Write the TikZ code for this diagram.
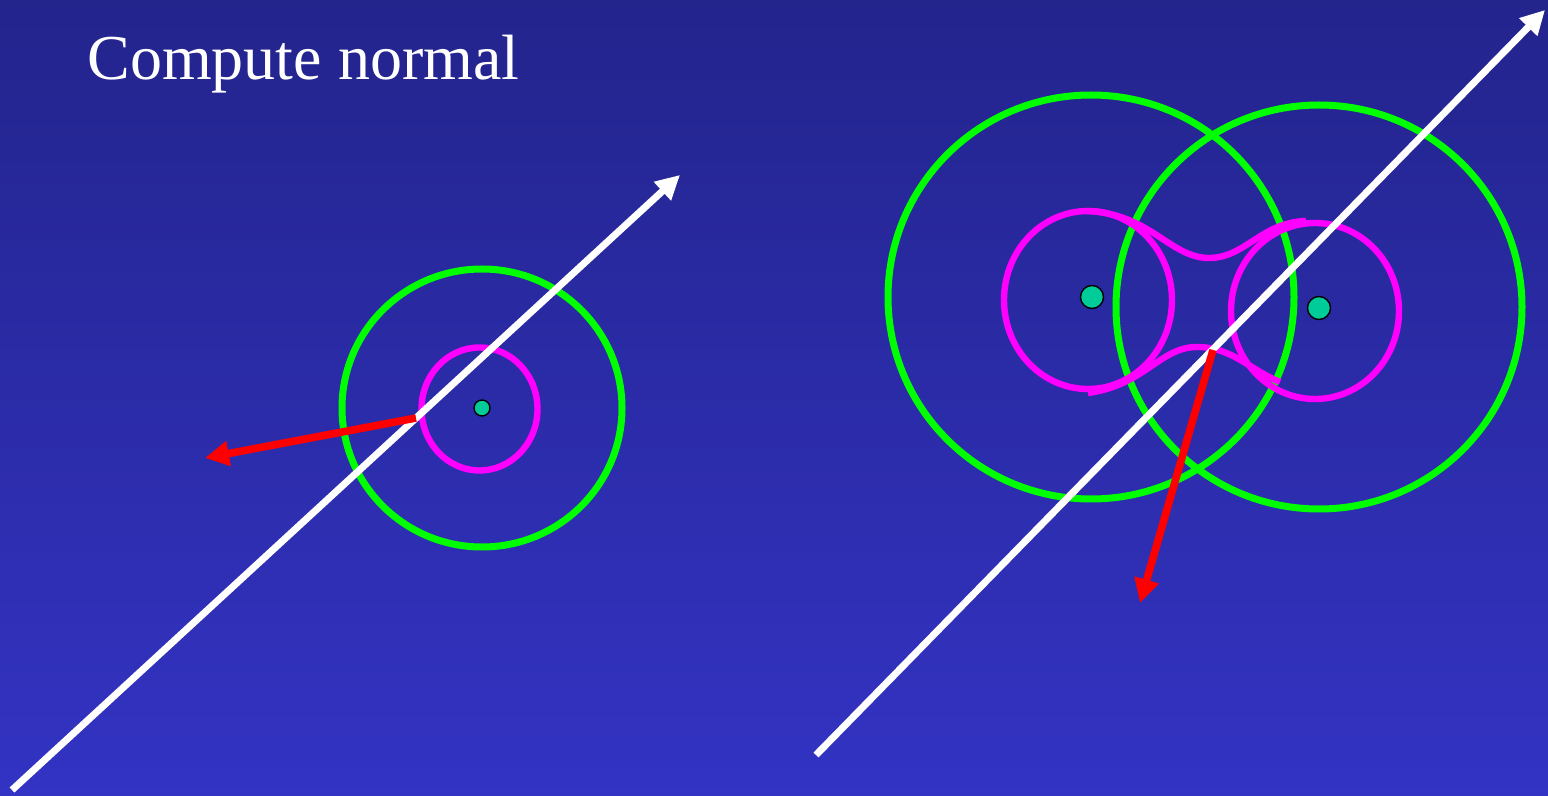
\documentclass[tikz,border=0pt]{standalone}
\usepackage{fontspec}
\setmainfont{Liberation Serif}
\usetikzlibrary{arrows.meta}
\definecolor{bgtop}{RGB}{35,36,140}
\definecolor{bgbot}{RGB}{51,51,196}
\definecolor{dotfill}{RGB}{0,204,153}
\definecolor{halogreen}{RGB}{0,255,0}
\definecolor{blobpink}{RGB}{255,0,255}
\definecolor{nrmred}{RGB}{255,0,0}

\begin{document}
\begin{tikzpicture}[x=0.5pt, y=-0.5pt,
      halo/.style={draw=halogreen, line width=3.5pt},
      blob/.style={draw=blobpink, line width=3.2pt},
      ctr/.style={circle, draw=black, fill=dotfill, line width=0.7pt, inner sep=0pt},
      ray/.style={white, line width=3.5pt, -{Triangle[length=12pt,width=12pt]}},
      nrm/.style={nrmred, line width=3.8pt, -{Triangle[length=12pt,width=12pt]}}]
    \shade[top color=bgtop, bottom color=bgbot] (0,0) rectangle (1548,796);
    \useasboundingbox (0,0) rectangle (1548,796);
    \node[white, font=\fontsize{32}{38}\selectfont, anchor=base west, inner sep=0pt] (title) at (87,80) {Compute normal};

    % single sphere
    \draw[halo] (482,408) ellipse [x radius=140, y radius=139];
    \draw[blob] (479.5,409) ellipse [x radius=58, y radius=61.5];
    \node[ctr, minimum size=8pt] (cA) at (482,408) {};
    \coordinate (rayA0) at (12,790);
    \coordinate (rayA1) at (680,175);
    \coordinate (hitA) at (416,418);
    \coordinate (nrmA) at (205,458);
    \draw[ray] (rayA0) -- (rayA1);
    \draw[nrm] (hitA) -- (nrmA);

    % two spheres, blended
    \draw[halo] (1091,297) ellipse [x radius=203, y radius=202];
    \draw[halo] (1319,307) ellipse [x radius=203, y radius=202];
    \draw[blob] (1088,300) ellipse [x radius=84, y radius=89];
    \draw[blob] (1315,311) ellipse [x radius=84, y radius=88];
    \draw[blob] (1086,211) .. controls (1150,213) and (1170,258) .. (1209,258)
      .. controls (1245,258) and (1262,222) .. (1306,221);
    \draw[blob] (1088,393) .. controls (1145,385) and (1160,347) .. (1197,347)
      .. controls (1232,347) and (1250,370) .. (1280,382);
    \node[ctr, minimum size=11.5pt] (cB) at (1092,297) {};
    \node[ctr, minimum size=11.5pt] (cC) at (1319,308) {};
    \coordinate (rayB0) at (816,755);
    \coordinate (rayB1) at (1545,10);
    \coordinate (hitB) at (1213,350);
    \coordinate (nrmB) at (1140,603);
    \draw[ray] (rayB0) -- (rayB1);
    \draw[nrm] (hitB) -- (nrmB);
\end{tikzpicture}
\end{document}
